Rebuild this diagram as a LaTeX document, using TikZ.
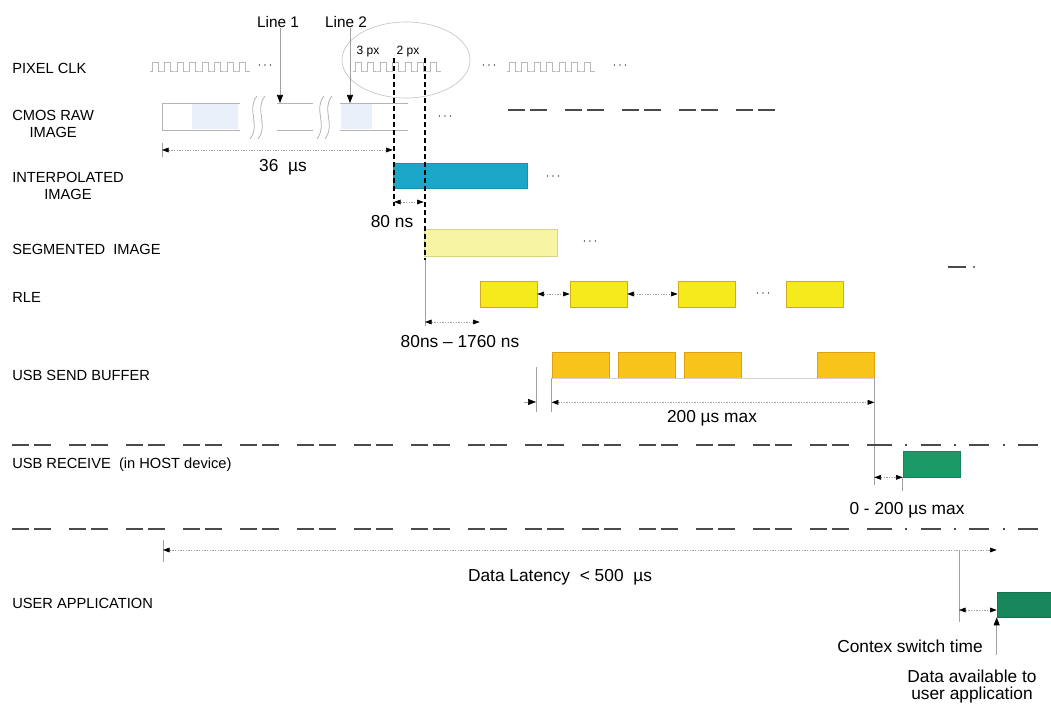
\documentclass[tikz,border=0pt]{standalone}
\usepackage{fontspec}
\setmainfont{Liberation Sans}
\usetikzlibrary{arrows.meta, positioning, calc}
\definecolor{interpfill}{HTML}{1BA8C8}
\definecolor{interpline}{HTML}{1990AE}
\definecolor{segfill}{HTML}{F7F5A4}
\definecolor{segline}{HTML}{D6D28C}
\definecolor{rlefill}{HTML}{F4EA1C}
\definecolor{rleline}{HTML}{D2AC1A}
\definecolor{sendfill}{HTML}{F9C41A}
\definecolor{sendline}{HTML}{E0A012}
\definecolor{recvfill}{HTML}{1B9A68}
\definecolor{userfill}{HTML}{17865A}
\definecolor{rawfill}{HTML}{EAF0FA}
\definecolor{rawline}{HTML}{B4B4B4}
\definecolor{guide}{HTML}{A0A0A0}
\definecolor{sepline}{HTML}{4A4A4A}
\tikzset{
  lane/.style     = {anchor=west, align=center, inner sep=0pt, font=\fontsize{11}{12.75}\selectfont},
  note/.style     = {inner sep=0pt, align=center, font=\fontsize{13}{12.75}\selectfont},
  tag/.style      = {inner sep=0pt, font=\fontsize{9}{10}\selectfont},
  more/.style     = {inner sep=0pt, font=\small},
  slot/.style     = {rectangle, inner sep=0pt, line width=0.5pt, minimum width=42.75pt, minimum height=19.5pt},
  rleslot/.style  = {slot, draw=rleline, fill=rlefill},
  sendslot/.style = {slot, draw=sendline, fill=sendfill},
  dimline/.style  = {{Triangle[length=5pt,width=3.6pt,color=black]}-{Triangle[length=5pt,width=3.6pt,color=black]},
                     draw=guide, line width=0.45pt, dash pattern=on 1.2pt off 0.8pt},
  pointer/.style  = {-{Triangle[length=6pt,width=4.5pt,color=black]}, draw=guide, line width=0.5pt},
  guideline/.style= {draw=guide, line width=0.45pt},
  pxline/.style   = {draw=black, line width=1pt, dash pattern=on 4pt off 2pt},
  clk/.style      = {draw=gray!55, line width=0.5pt},
  divider/.style  = {draw=sepline, line width=1.3pt, dash pattern=on 12.75pt off 3.75pt on 12.75pt off 13.5pt},
  dividerend/.style={draw=sepline, line width=1.3pt, dash pattern=on 15pt off 10pt on 1.5pt off 10pt},
}

\begin{document}
\begin{tikzpicture}[x=0.75pt, y=-0.75pt]
	\useasboundingbox (0,0) rectangle (1051,716);
	% lane labels
	\node[lane] (pixclk) at (12,68)    {PIXEL CLK};
	\node[lane] (raw)    at (12,123.5) {CMOS RAW\\IMAGE};
	\node[lane] (interp) at (12,186)   {INTERPOLATED\\IMAGE};
	\node[lane] (seg)    at (12,249)   {SEGMENTED\ \ IMAGE};
	\node[lane] (rle)    at (12,297)   {RLE};
	\node[lane] (send)   at (12,375)   {USB SEND BUFFER};
	\node[lane] (recvl)  at (12,465)   {USB RECEIVE\ \ (in HOST device)};
	\node[lane] (userl)  at (12,603)   {USER APPLICATION};

	% pixel clock
	\foreach \x/\n in {150/8, 353/7, 507/7}
		\draw[clk] (\x,71) \foreach \k in {1,...,\n}{ -- ++(2,0) -- ++(0,-9) -- ++(6,0) -- ++(0,9) -- ++(4.5,0)};
	\node[more] (clkdots1) at (265,66) {$\cdots$};
	\node[more] (clkdots2) at (489,66) {$\cdots$};
	\node[more] (clkdots3) at (620,66) {$\cdots$};
	\draw[draw=gray!45, line width=0.5pt] (406,60) ellipse [x radius=48pt, y radius=28.5pt];
	\node[tag] (px3) at (368,52) {3 px};
	\node[tag] (px2) at (408,52) {2 px};

	% line markers
	\node[font=\fontsize{11.5}{12}\selectfont, inner sep=0pt] (line1) at (278,22) {Line 1};
	\node[font=\fontsize{11.5}{12}\selectfont, inner sep=0pt] (line2) at (346,22) {Line 2};
	\coordinate (line1tip) at (280,103);
	\coordinate (line2tip) at (350,103);
	\draw[pointer] (line1tip |- line1.south) -- (line1tip);
	\draw[pointer] (line2tip |- line2.south) -- (line2tip);

	% cmos raw image
	\fill[rawfill] (192,104) rectangle (238,129);
	\fill[rawfill] (341,104) rectangle (372,129);
	\draw[rawline, line width=0.6pt] (240,103) -- (162,103) -- (162,130) -- (240,130);
	\draw[rawline, line width=0.6pt] (277,103) -- (313,103) (277,130) -- (313,130);
	\draw[rawline, line width=0.6pt] (340,103) -- (408,103) (340,130) -- (408,130);
	\foreach \x in {253,261,320,328}
		\draw[rawline, line width=0.6pt] (\x+4,96) .. controls (\x-7,110) and (\x+8,124) .. (\x-3,139);
	\node[more] (rawdots) at (445,117) {$\cdots$};
	\draw[divider] (508,110) -- (777,110);

	% bars
	\node[slot, draw=interpline, fill=interpfill, minimum width=100.5pt, minimum height=18.75pt] (interpbar) at (460,175.5) {};
	\node[slot, draw=segline, fill=segfill, minimum width=99.75pt, minimum height=20.25pt] (segbar) at (490.5,242.5) {};
	\foreach \i/\x in {1/508.5, 2/598.5, 3/706.5, 4/814.5}
		\node[rleslot] (rle\i) at (\x,294) {};
	\foreach \i/\x in {1/580.5, 2/646.5, 3/713, 4/845.5}
		\node[sendslot] (send\i) at (\x,365) {};
	\node[slot, draw=recvfill!85!black, fill=recvfill] (recv) at (931.5,464) {};
	\node[slot, draw=userfill!85!black, fill=userfill, minimum width=40.5pt, minimum height=18.75pt] (user) at (1024,604.5) {};
	\node[more] (interpdots) at (553,177) {$\cdots$};
	\node[more] (segdots)    at (590,242) {$\cdots$};
	\node[more] (rledots)    at (763,294) {$\cdots$};

	% 3 px / 2 px guides
	\coordinate (pxa) at (394,58);
	\coordinate (pxb) at (425,58);
	\coordinate (d80) at (394,202);
	\coordinate (d1760) at (425,322);
	\draw[pxline] (pxa) -- ($(pxa |- d80)+(0,4)$);
	\draw[pxline] (pxb) -- (425,260);
	\draw[guideline] (425,260) -- ($(d1760)+(0,4)$);

	% timing spans
	\coordinate (rawstart) at (162,150);
	\draw[guideline] ($(rawstart)+(0,-7)$) -- ($(rawstart)+(0,7)$);
	\draw[dimline] (rawstart) -- (rawstart -| interpbar.west);
	\node[note] (t36) at (283,167) {36\ \ µs};
	\draw[dimline] (d80) -- (d80 -| segbar.west);
	\node[note] (t80) at (392,222) {80 ns};
	\draw[dimline] (d1760) -- (d1760 -| rle1.west);
	\node[note] (t1760) at (460,342) {80ns – 1760 ns};
	\foreach \a/\b in {rle1/rle2, rle2/rle3}{\draw[dimline] (\a.east) -- (\b.west);}

	\coordinate (gapend) at (536,402);
	\coordinate (d200) at ($(send1.south west)+(0,24)$);
	\draw[guideline] (536,367) -- (536,412);
	\draw[guideline] (send1.south west) -- ++(0,34);
	\draw[guideline, draw=gray!35] (send1.south west) -- (send4.south east);
	\draw[guideline] (send4.south east) -- ++(0,107);
	\draw[pointer] ($(gapend)+(-12,0)$) -- (gapend);
	\draw[dimline] (d200) -- (d200 -| send4.east);
	\node[note] (t200) at (712,418) {200 µs max};

	% host side
	\draw[divider] (12,445) -- (872,445);
	\draw[dividerend] (872,445) -- (1051,445);
	\draw[divider] (12,529) -- (872,529);
	\draw[dividerend] (872,529) -- (1051,529);
	\draw[sepline, line width=1.3pt] (948,267) -- (966,267);
	\fill[sepline] (974,267) circle [radius=0.9pt];
	\draw[dimline] (send4.east |- recv.south) -- (recv.south west);
	\draw[guideline] (recv.south west) -- ++(0,14);
	\node[note] (t0200) at (907,510) {0 - 200 µs max};

	\coordinate (latstart) at (163,550);
	\coordinate (ctx) at (959,550);
	\coordinate (ctxarr) at (959,610);
	\draw[guideline] ($(latstart)+(0,-10)$) -- ($(latstart)+(0,12)$);
	\draw[dimline] (latstart) -- (latstart -| user.west);
	\node[note] (lat) at (560,577) {Data Latency\ \ <\ 500\ \ µs};
	\draw[guideline] (ctx) -- ++(0,72);
	\draw[dimline] (ctxarr) -- (ctxarr -| user.west);
	\draw[pointer] ($(user.south west)+(0,38)$) -- (user.south west);
	\node[note] (ctxl) at (910,646) {Contex switch time};
	\node[note] (avail) at (972,687) {Data available to\\user application};
\end{tikzpicture}
\end{document}
